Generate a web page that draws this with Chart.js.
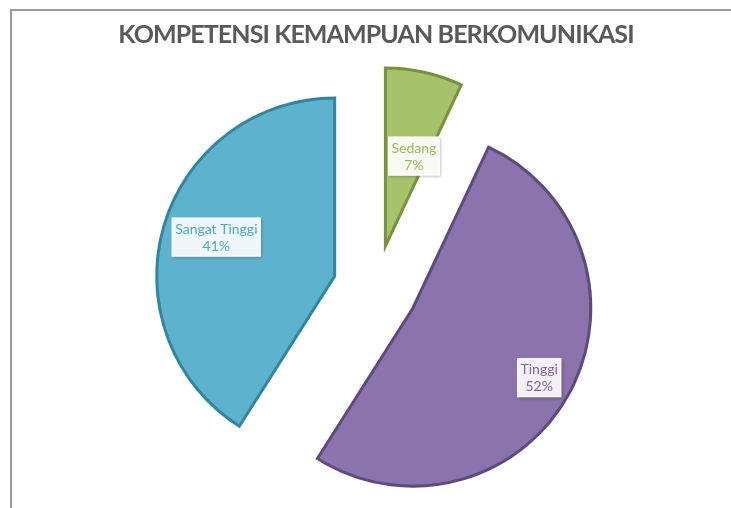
<!DOCTYPE html>
<html>
<head>
<meta charset="utf-8">
<title>Kompetensi Kemampuan Berkomunikasi</title>
<script src="https://cdn.jsdelivr.net/npm/chart.js@4.4.1/dist/chart.umd.min.js"></script>
<style>
  html, body { margin: 0; padding: 0; background: #fff; width: 731px; height: 508px; overflow: hidden; }
  #frame {
    position: absolute; left: 10px; top: 9px;
    border-left: 2px solid #9a9a9a; border-top: 2px solid #9a9a9a;
  }
  #frame canvas { display: block; }
</style>
</head>
<body>
<div id="frame"><canvas id="chart" width="731" height="560"></canvas></div>
<script>
// Data
const categories = ['Sedang', 'Tinggi', 'Sangat Tinggi'];
const percentages = [7, 52, 41];
const chartTitle = 'KOMPETENSI KEMAMPUAN BERKOMUNIKASI';

// Slice styling
const fillColors = ['#a6c36c', '#8b73ad', '#5db3cd'];
const edgeColors = ['#76933c', '#5f4a7d', '#31859c'];
const textColors = ['#9bbb59', '#8064a2', '#4bacc6'];
const boxColors = ['#f7f9f2', '#f3f0f7', '#eef6f9'];
const explode = [43, 42, 43];      // px each slice is pulled out
const labelDepth = [0.53, 0.81, 0.70];
const labelTurn = [5, 0, 2];        // degrees

/**
 * Tighter title lettering (Calibri-like width), reset before the slices
 */
const titleSpacing = {
  id: 'titleSpacing',
  beforeDraw(chart) { chart.ctx.letterSpacing = '-0.9px'; },
  beforeDatasetsDraw(chart) { chart.ctx.letterSpacing = '0px'; }
};

/**
 * Pull each slice out along its middle angle
 */
const explodeSlices = {
  id: 'explodeSlices',
  afterDatasetsUpdate(chart) {
    const meta = chart.getDatasetMeta(0);
    meta.data.forEach((arc, i) => {
      const mid = (arc.startAngle + arc.endAngle) / 2;
      arc.x += Math.cos(mid) * explode[i];
      arc.y += Math.sin(mid) * explode[i];
    });
  }
};

/**
 * Boxed category / percent labels inside the slices
 */
const sliceLabels = {
  id: 'sliceLabels',
  afterDatasetsDraw(chart) {
    const ctx = chart.ctx;
    const meta = chart.getDatasetMeta(0);
    ctx.save();
    ctx.font = '14px Lato';
    ctx.textAlign = 'center';
    ctx.textBaseline = 'middle';
    meta.data.forEach((arc, i) => {
      const mid = (arc.startAngle + arc.endAngle) / 2 + labelTurn[i] * Math.PI / 180;
      const r = arc.outerRadius * labelDepth[i];
      const x = arc.x + Math.cos(mid) * r;
      const y = arc.y + Math.sin(mid) * r;
      const lines = [categories[i], percentages[i] + '%'];
      const w = Math.max(...lines.map(t => ctx.measureText(t).width)) + 7;
      const h = 39;

      ctx.shadowColor = 'rgba(0, 0, 0, 0.3)';
      ctx.shadowBlur = 3;
      ctx.shadowOffsetX = 1.5;
      ctx.shadowOffsetY = 1.5;
      ctx.fillStyle = boxColors[i];
      ctx.fillRect(x - w / 2, y - h / 2, w, h);
      ctx.shadowColor = 'transparent';
      ctx.strokeStyle = 'rgba(255, 255, 255, 0.9)';
      ctx.lineWidth = 1;
      ctx.strokeRect(x - w / 2 + 0.5, y - h / 2 + 0.5, w - 1, h - 1);

      ctx.fillStyle = textColors[i];
      ctx.fillText(lines[0], x, y - 8);
      ctx.fillText(lines[1], x, y + 9);
    });
    ctx.restore();
  }
};

new Chart(document.getElementById('chart'), {
  type: 'pie',
  data: {
    labels: categories,
    datasets: [{
      data: percentages,
      backgroundColor: fillColors,
      borderColor: edgeColors,
      borderWidth: 3,
      borderJoinStyle: 'miter',
      radius: 178
    }]
  },
  options: {
    responsive: false,
    animation: false,
    events: [],
    layout: { padding: { left: 0, right: 3, top: 0, bottom: 47 } },
    plugins: {
      legend: { display: false },
      tooltip: { enabled: false },
      title: {
        display: true,
        text: chartTitle,
        color: '#595959',
        font: { family: 'Lato', size: 25, weight: 'bold', lineHeight: 1.2 },
        padding: { top: 9, bottom: 2 }
      }
    }
  },
  plugins: [titleSpacing, explodeSlices, sliceLabels]
});
</script>
</body>
</html>
